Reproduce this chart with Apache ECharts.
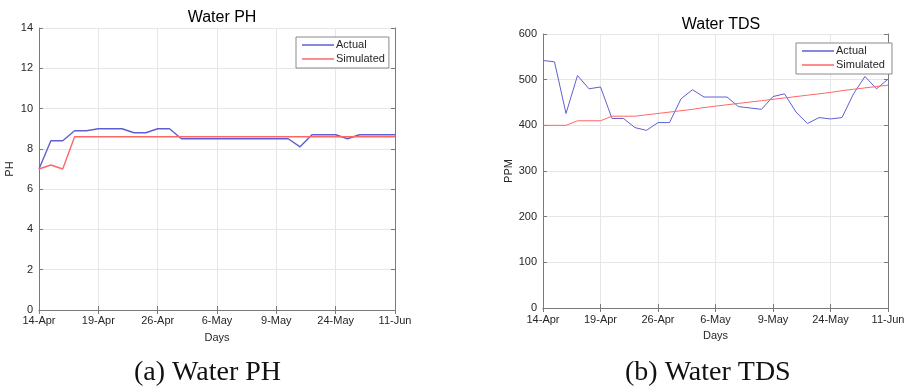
<!DOCTYPE html>
<html>
<head>
<meta charset="utf-8">
<script src="https://cdn.jsdelivr.net/npm/echarts@6/dist/echarts.min.js"></script>
<style>
html, body { margin: 0; padding: 0; background: #fff; }
#main { width: 910px; height: 392px; }
</style>
</head>
<body>
<div id="main"></div>
<script>
// tick labels on the x axis (every 5th sample)
var tickLabels = ['14-Apr', '19-Apr', '26-Apr', '6-May', '9-May', '24-May', '11-Jun'];

// water PH
var phActual = [7.0, 8.4, 8.4, 8.9, 8.9, 9.0, 9.0, 9.0, 8.8, 8.8, 9.0, 9.0, 8.5, 8.5, 8.5, 8.5,
	8.5, 8.5, 8.5, 8.5, 8.5, 8.5, 8.1, 8.7, 8.7, 8.7, 8.5, 8.7, 8.7, 8.7, 8.7];
var phSimulated = [7.0, 7.2, 7.0, 8.6, 8.6, 8.6, 8.6, 8.6, 8.6, 8.6, 8.6, 8.6, 8.6, 8.6, 8.6, 8.6,
	8.6, 8.6, 8.6, 8.6, 8.6, 8.6, 8.6, 8.6, 8.6, 8.6, 8.6, 8.6, 8.6, 8.6, 8.6];

// water TDS (ppm)
var tdsActual = [542, 539, 426, 509, 480, 484, 415, 415, 395, 389, 406, 406, 458, 478, 462, 462,
	462, 441, 438, 435, 463, 469, 429, 404, 417, 414, 417, 469, 507, 480, 501];
var tdsSimulated = [400, 400, 400, 410, 410, 410, 420, 420, 420, 423, 426, 429, 432, 435, 439, 442,
	445, 448, 451, 454, 457, 460, 463, 466, 469, 472, 476, 479, 482, 485, 488];

var samples = [];
for (var i = 0; i < phActual.length; i++) samples.push(i);

var textColor = '#262626';
var boxColor = '#7a7a7a';
var gridColor = '#e6e6e6';
var blue = '#5f5fd2';
var red = '#ff6666';

function xAxisFor(gridIndex, name, nameGap, labelMargin) {
	return [{
		gridIndex : gridIndex,
		type : 'category',
		data : samples,
		boundaryGap : false,
		name : name,
		nameLocation : 'middle',
		nameGap : nameGap,
		nameTextStyle : { color : textColor, fontSize : 11, fontFamily : 'Arial' },
		axisLine : { lineStyle : { color : boxColor } },
		axisTick : { inside : true, interval : 4, length : 4, lineStyle : { color : boxColor } },
		axisLabel : {
			interval : 4,
			margin : labelMargin,
			color : textColor,
			fontSize : 11,
			fontFamily : 'Arial',
			formatter : function (v, idx) { return tickLabels[idx / 5]; }
		},
		splitLine : { show : true, interval : 4, lineStyle : { color : gridColor } }
	}, {
		gridIndex : gridIndex,
		type : 'category',
		data : samples,
		boundaryGap : false,
		position : 'top',
		axisLine : { lineStyle : { color : boxColor } },
		axisTick : { inside : true, interval : 4, length : 4, lineStyle : { color : boxColor } },
		axisLabel : { show : false },
		splitLine : { show : false }
	}];
}

function yAxisFor(gridIndex, name, nameGap, max, interval) {
	return [{
		gridIndex : gridIndex,
		type : 'value',
		min : 0,
		max : max,
		interval : interval,
		name : name,
		nameLocation : 'middle',
		nameGap : nameGap,
		nameTextStyle : { color : textColor, fontSize : 11, fontFamily : 'Arial' },
		axisLine : { show : true, lineStyle : { color : boxColor } },
		axisTick : { show : true, inside : true, length : 4, lineStyle : { color : boxColor } },
		axisLabel : { margin : 6, color : textColor, fontSize : 11, fontFamily : 'Arial' },
		splitLine : { show : true, lineStyle : { color : gridColor } }
	}, {
		gridIndex : gridIndex,
		type : 'value',
		min : 0,
		max : max,
		interval : interval,
		position : 'right',
		axisLine : { show : true, lineStyle : { color : boxColor } },
		axisTick : { show : true, inside : true, length : 4, lineStyle : { color : boxColor } },
		axisLabel : { show : false },
		splitLine : { show : false }
	}];
}

function legendFor(left, top, names) {
	return {
		left : left,
		top : top,
		orient : 'vertical',
		data : names,
		icon : 'rect',
		itemWidth : 32,
		itemHeight : 1.5,
		itemGap : 2,
		padding : [2, 4, 3, 6],
		borderColor : '#8a8a8a',
		borderWidth : 1,
		backgroundColor : '#fff',
		textStyle : { color : textColor, fontSize : 11, fontFamily : 'Arial', lineHeight : 12, padding : [0, 0, 0, -3] }
	};
}

function lineSeries(name, data, color, xi, yi, width) {
	return {
		name : name,
		type : 'line',
		xAxisIndex : xi,
		yAxisIndex : yi,
		data : data,
		symbol : 'none',
		animation : false,
		lineStyle : { color : color, width : width },
		itemStyle : { color : color }
	};
}

var chart = echarts.init(document.getElementById('main'), null, { renderer : 'canvas' });

var xa = xAxisFor(0, 'Days', 22, 5).concat(xAxisFor(1, 'Days', 22, 6));
var ya = yAxisFor(0, 'PH', 24, 14, 2).concat(yAxisFor(1, 'PPM', 25, 600, 100));

chart.setOption({
	animation : false,
	title : [{
		text : 'Water PH',
		left : 217,
		top : 5,
		textAlign : 'center',
		textStyle : { color : '#000', fontSize : 16, fontWeight : 'normal', fontFamily : 'Arial' }
	}, {
		text : 'Water TDS',
		left : 716,
		top : 12,
		textAlign : 'center',
		textStyle : { color : '#000', fontSize : 16, fontWeight : 'normal', fontFamily : 'Arial' }
	}],
	legend : [
		legendFor(296, 37, ['Actual', 'Simulated']),
		legendFor(796, 43, ['Actual ', 'Simulated '])
	],
	grid : [
		{ left : 39, top : 28, width : 356, height : 282 },
		{ left : 543, top : 34, width : 345, height : 274 }
	],
	xAxis : xa,
	yAxis : ya,
	series : [
		lineSeries('Actual', phActual, blue, 0, 0, 1.4),
		lineSeries('Simulated', phSimulated, red, 0, 0, 1.4),
		lineSeries('Actual ', tdsActual, blue, 2, 2, 1),
		lineSeries('Simulated ', tdsSimulated, red, 2, 2, 1)
	],
	graphic : [{
		type : 'text',
		left : 134,
		top : 359,
		style : { text : '(a) Water PH', fill : '#111', font : '28px "Liberation Serif", serif' }
	}, {
		type : 'text',
		left : 625,
		top : 359,
		style : { text : '(b) Water TDS', fill : '#111', font : '28px "Liberation Serif", serif' }
	}]
});
</script>
</body>
</html>
